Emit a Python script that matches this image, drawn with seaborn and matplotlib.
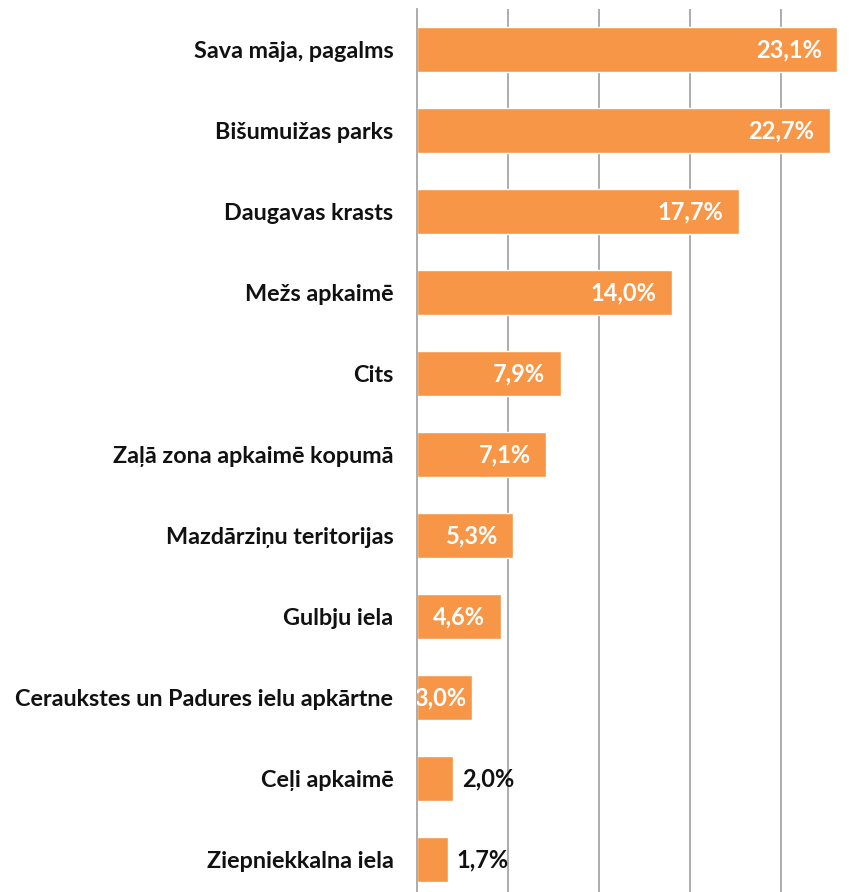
import matplotlib
matplotlib.use("Agg")
import matplotlib.pyplot as plt
import numpy as np
import pandas as pd
import seaborn as sns

# categories and shares (%)
places = [
    "Sava māja, pagalms",
    "Bišumuižas parks",
    "Daugavas krasts",
    "Mežs apkaimē",
    "Cits",
    "Zaļā zona apkaimē kopumā",
    "Mazdārziņu teritorijas",
    "Gulbju iela",
    "Ceraukstes un Padures ielu apkārtne",
    "Ceļi apkaimē",
    "Ziepniekkalna iela",
]
shares = [23.1, 22.7, 17.7, 14.0, 7.9, 7.1, 5.3, 4.6, 3.0, 2.0, 1.7]
value_labels = ["23,1%", "22,7%", "17,7%", "14,0%", "7,9%", "7,1%",
                "5,3%", "4,6%", "3,0%", "2,0%", "1,7%"]

df = pd.DataFrame({"place": places, "share": shares})

sns.set_style("white")
plt.rcParams["font.family"] = ["Lato", "DejaVu Sans"]

fig = plt.figure(figsize=(8.63, 8.92), dpi=100)
ax = fig.add_axes([417 / 863, 0.0, 446 / 863, 883 / 892])

sns.barplot(data=df, x="share", y="place", orient="h", color="#F79646",
            saturation=1, width=0.56, ax=ax)

ax.set_xlim(0, 24.53)
ax.set_ylim(10.40, -0.5)
ax.set_xticks([5, 10, 15, 20])
ax.set_xticklabels([])
ax.grid(axis="x", color="#A6A6A6", linewidth=1.3)
ax.set_axisbelow(True)
ax.tick_params(axis="both", length=0)
ax.tick_params(axis="y", pad=17)
for lab in ax.get_yticklabels():
    lab.set_fontweight("bold")
    lab.set_fontsize(16.8)
    lab.set_color("#111111")
ax.set_xlabel("")
ax.set_ylabel("")
for side in ["top", "right", "bottom"]:
    ax.spines[side].set_visible(False)
ax.spines["left"].set_color("#A6A6A6")
ax.spines["left"].set_linewidth(1.3)

# value labels: white inside bar end, black outside for the small ones
vsize = 17
for i, (v, txt) in enumerate(zip(shares, value_labels)):
    if v >= 4:
        ax.annotate(txt, xy=(v, i), xytext=(-11, 0), textcoords="offset points",
                    ha="right", va="center", color="white", fontweight="bold",
                    fontsize=vsize, clip_on=True)
    elif v >= 2.5:
        ax.annotate(txt, xy=(v, i), xytext=(-3.5, 0), textcoords="offset points",
                    ha="right", va="center", color="white", fontweight="bold",
                    fontsize=vsize, clip_on=True)
    else:
        ax.annotate(txt, xy=(v, i), xytext=(6.5, 0), textcoords="offset points",
                    ha="left", va="center", color="#111111", fontweight="bold",
                    fontsize=vsize)

fig.savefig("out.png", dpi=100)
